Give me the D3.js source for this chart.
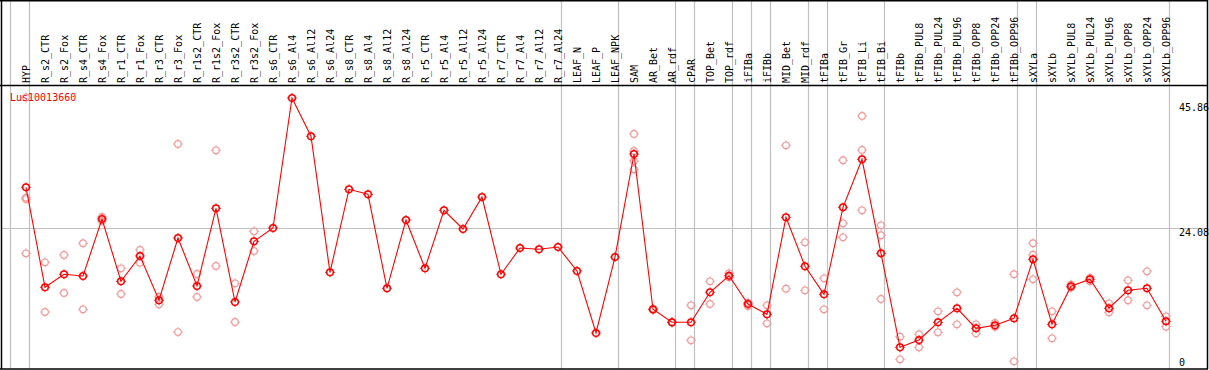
<!DOCTYPE html>
<meta charset="utf-8">
<script src="https://d3js.org/d3.v7.min.js"></script>
<style>
  body { margin: 0; background: #fff; }
  text { font-family: "DejaVu Sans Mono", monospace; font-size: 10px; }
</style>
<div id="viz"></div>
<script>

var names = ["HYP","R_s2_CTR","R_s2_Fox","R_s4_CTR","R_s4_Fox","R_r1_CTR","R_r1_Fox","R_r3_CTR","R_r3_Fox",
  "R_r1s2_CTR","R_r1s2_Fox","R_r3s2_CTR","R_r3s2_Fox","R_s6_CTR","R_s6_Al4","R_s6_Al12","R_s6_Al24",
  "R_s8_CTR","R_s8_Al4","R_s8_Al12","R_s8_Al24","R_r5_CTR","R_r5_Al4","R_r5_Al12","R_r5_Al24",
  "R_r7_CTR","R_r7_Al4","R_r7_Al12","R_r7_Al24","LEAF_N","LEAF_P","LEAF_NPK","SAM","AR_Bet","AR_rdf",
  "cPAR","TOP_Bet","TOP_rdf","iFIBa","iFIBb","MID_Bet","MID_rdf","tFIBa","tFIB_Gr","tFIB_Li","tFIB_Bi",
  "tFIBb","tFIBb_PUL8","tFIBb_PUL24","tFIBb_PUL96","tFIBb_OPP8","tFIBb_OPP24","tFIBb_OPP96",
  "sXYLa","sXYLb","sXYLb_PUL8","sXYLb_PUL24","sXYLb_PUL96","sXYLb_OPP8","sXYLb_OPP24","sXYLb_OPP96"];

// mean expression per sample
var means = [31.24,13.86,16.12,15.82,25.73,14.90,19.30,11.60,22.43,14.08,27.59,11.30,21.85,24.17,46.77,
  40.11,16.46,30.89,30.02,13.68,25.56,17.16,27.24,23.99,29.55,16.12,20.69,20.46,20.86,16.69,5.91,19.12,
  37.03,10.03,7.77,7.77,12.99,15.87,10.95,9.16,26.03,17.51,12.64,27.76,36.11,19.77,3.42,4.69,7.77,10.21,
  6.73,7.25,8.47,18.72,7.42,14.03,15.25,10.21,13.33,13.68,7.95];

// replicate values per sample
var reps = [
  [46.85,29.43,29.2,19.77],[18.20,9.56],[19.47,12.87],[21.51,10.03],[26.1,25.4],[17.16,12.69],[20.34,18.13],
  [12.22,10.90],[38.77,6.08],[16.17,12.17],[37.67,17.56],[14.55,7.82],[23.59,20.17],
  [],[],[],[],[],[],[],[],[],[],[],[],[],[],[],[],[],[],[],
  [40.51,37.55,35.81,34.37],[10.1,9.9],[7.8,7.7],[10.73,4.64],[14.90,10.95],[16.29,15.6],[10.60,11.2],
  [10.73,7.60],[38.54,13.61],[21.68,13.33],[15.42,10.03],[35.94,24.98,22.55],[43.64,37.73,27.24],
  [24.63,22.90,11.82],[5.27,1.34],[5.69,3.42],[9.68,6.03],[12.99,7.42],[7.42,5.86],[7.65,7.0],
  [16.12,0.99],[21.51,19.52,15.25],[9.68,4.99],[14.31,13.8],[14.90,15.5],[11.07,9.51],[15.07,11.60],
  [16.64,10.73],[8.81,7.01]];

var yTicks = [45.86, 24.08, 0];
var groupStarts = ["HYP","R_s2_CTR","LEAF_N","SAM","cPAR","TOP_Bet","iFIBa","iFIBb","MID_Bet",
  "tFIBa","tFIB_Gr","tFIBb","sXYLa","sXYLb"];
var seriesName = "Lus10013660";

var W = 1209, H = 370, headerH = 85, bottom = 369;

var svg = d3.select("#viz").append("svg")
  .attr("width", W).attr("height", H);

var x = d3.scalePoint().domain(names).range([26, 26 + 19 * (names.length - 1)]);
var y = d3.scaleLinear().domain([0, 45.86]).range([367, 103.2]);
var step = x.step();
function edge(name) { return x(name) - 15; }

// vertical separators
var seps = groupStarts.map(edge);
seps.push(x(names[names.length - 1]) + 4);
svg.append("g").selectAll("line").data(seps).enter().append("line")
  .attr("x1", function(d) { return d - 0.5; }).attr("x2", function(d) { return d - 0.5; })
  .attr("y1", 0).attr("y2", bottom)
  .attr("stroke", "#c0c0c0").attr("stroke-width", 1.2);

// horizontal grid line
svg.append("line")
  .attr("x1", 1).attr("x2", 1207)
  .attr("y1", y(24.08)).attr("y2", y(24.08))
  .attr("stroke", "#c0c0c0").attr("stroke-width", 1.2);

// header labels
svg.append("g").selectAll("text").data(names).enter().append("text")
  .attr("transform", function(d) { return "translate(" + (x(d) + 3.6) + ",83) rotate(-90)"; })
  .attr("fill", "#000")
  .text(function(d) { return d; });

// y labels
svg.append("g").selectAll("text").data(yTicks).enter().append("text")
  .attr("x", 1179)
  .attr("y", function(d) { return Math.min(y(d) + 8, 366); })
  .attr("fill", "#000")
  .text(function(d) { return d; });

function marker(g, cx, cy, color, sw) {
  var r = 3.3;
  g.append("circle").attr("cx", cx).attr("cy", cy).attr("r", r)
    .attr("fill", "none").attr("stroke", color).attr("stroke-width", sw);
  [[0,-1],[0,1],[-1,0],[1,0]].forEach(function(o) {
    g.append("line")
      .attr("x1", cx + o[0] * r).attr("y1", cy + o[1] * r)
      .attr("x2", cx + o[0] * (r + 1.6)).attr("y2", cy + o[1] * (r + 1.6))
      .attr("stroke", color).attr("stroke-width", 1);
  });
}

// replicates
var gRep = svg.append("g");
names.forEach(function(n, i) {
  reps[i].forEach(function(v) { marker(gRep, x(n), y(v), "#f09a9a", 1.2); });
});

// mean line
var line = d3.line()
  .x(function(d, i) { return x(names[i]); })
  .y(function(d) { return y(d); });
svg.append("path").datum(means)
  .attr("d", line)
  .attr("fill", "none").attr("stroke", "#ff0000").attr("stroke-width", 1.1);

var gMean = svg.append("g");
means.forEach(function(v, i) { marker(gMean, x(names[i]), y(v), "#ff0000", 1.5); });

svg.append("text")
  .attr("x", 10).attr("y", 101)
  .attr("fill", "#ff0000")
  .text(seriesName);

// frame
svg.append("line").attr("x1", 0).attr("x2", 1208).attr("y1", 0.5).attr("y2", 0.5)
  .attr("stroke", "#000").attr("stroke-width", 2);
svg.append("line").attr("x1", 0).attr("x2", 1208).attr("y1", headerH + 0.5).attr("y2", headerH + 0.5)
  .attr("stroke", "#000").attr("stroke-width", 1.5);
svg.append("line").attr("x1", 0).attr("x2", 1208).attr("y1", bottom).attr("y2", bottom)
  .attr("stroke", "#000").attr("stroke-width", 1.5);
svg.append("line").attr("x1", 1.5).attr("x2", 1.5).attr("y1", 0).attr("y2", bottom)
  .attr("stroke", "#000").attr("stroke-width", 1.5);
svg.append("line").attr("x1", 1207.5).attr("x2", 1207.5).attr("y1", 0).attr("y2", bottom)
  .attr("stroke", "#000").attr("stroke-width", 1.5);

</script>
